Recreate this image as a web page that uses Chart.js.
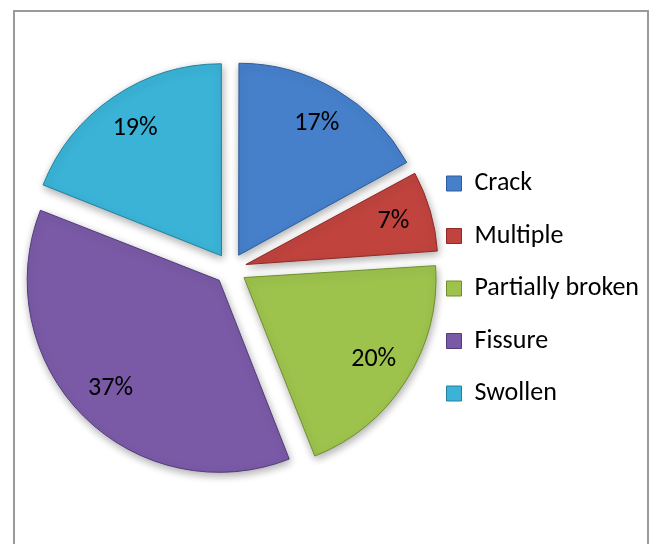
<!DOCTYPE html>
<html>
<head>
<meta charset="utf-8">
<script src="https://cdn.jsdelivr.net/npm/chart.js@4/dist/chart.umd.min.js"></script>
<style>
  html, body { margin: 0; padding: 0; background: #ffffff; }
  #wrap { position: relative; width: 655px; height: 544px; overflow: hidden; }
  #frame { position: absolute; left: 13px; top: 10px; width: 636px; height: 600px; border: 2px solid #9a9a9a; box-sizing: border-box; }
  #c { position: absolute; left: 0; top: 0; }
</style>
</head>
<body>
<div id="wrap">
  <div id="frame"></div>
  <canvas id="c" width="655" height="544"></canvas>
</div>
<script>
const categories = ["Crack", "Multiple", "Partially broken", "Fissure", "Swollen"];
const shares = [17, 7, 20, 37, 19];
const sliceColors = ["#4680CB", "#C0433E", "#9DC34D", "#7A5AA6", "#3AB3D7"];
const sliceEdges = ["#2E5C9C", "#8E2A26", "#6F8F2C", "#533A7C", "#23839F"];

const FONT = "Carlito, Calibri, Lato, sans-serif";
const FONT_SIZE = 26;
const RADIUS = 192;
const EXPLODE = 16;       // px each slice is pulled out
const OFFSET_DIV = 4;     // Chart.js v4 translates arcs by offset/4

const pieStyle = {
  id: 'pieStyle',
  afterDatasetsUpdate(chart) {
    // keep every exploded slice at the same radius
    chart.getDatasetMeta(0).data.forEach(arc => {
      const fix = 1 - Math.sin(Math.min(Math.PI, arc.circumference || 0));
      arc.outerRadius = RADIUS - EXPLODE * fix;
    });
  },
  beforeDatasetsDraw(chart) {
    const ctx = chart.ctx;
    ctx.save();
    ctx.shadowColor = 'rgba(0,0,0,0.33)';
    ctx.shadowBlur = 8;
    ctx.shadowOffsetX = 1;
    ctx.shadowOffsetY = 3;
  },
  afterDatasetsDraw(chart) {
    const ctx = chart.ctx;
    ctx.restore();
    const meta = chart.getDatasetMeta(0);
    ctx.save();
    ctx.font = FONT_SIZE + "px " + FONT;
    ctx.fillStyle = "#000";
    ctx.textAlign = "center";
    ctx.textBaseline = "middle";
    meta.data.forEach((arc, i) => {
      const p = arc.getProps(['x', 'y', 'startAngle', 'endAngle'], true);
      const mid = (p.startAngle + p.endAngle) / 2;
      const d = EXPLODE + RADIUS * 0.8;
      ctx.fillText(shares[i] + "%", p.x + Math.cos(mid) * d, p.y + Math.sin(mid) * d);
    });
    ctx.restore();
  }
};

new Chart(document.getElementById('c'), {
  type: 'pie',
  data: {
    labels: categories,
    datasets: [{
      data: shares,
      backgroundColor: sliceColors,
      borderColor: sliceEdges,
      borderWidth: 1,
      offset: EXPLODE * OFFSET_DIV,
      radius: RADIUS,
      clip: false
    }]
  },
  options: {
    responsive: false,
    animation: false,
    events: [],
    layout: { padding: { left: 41, right: 6, top: 0, bottom: 6 } },
    plugins: {
      tooltip: { enabled: false },
      legend: {
        position: 'right',
        align: 'center',
        title: { display: true, text: ' ', font: { size: 12, lineHeight: 1 }, padding: { top: 15, bottom: 12 } },
        labels: {
          boxWidth: 15,
          boxHeight: 15,
          padding: 26.5,
          color: '#000',
          font: { family: FONT, size: FONT_SIZE },
          generateLabels(chart) {
            return categories.map((c, i) => ({
              text: c,
              fillStyle: sliceColors[i],
              strokeStyle: sliceEdges[i],
              fontColor: '#000',
              lineWidth: 1,
              hidden: false,
              index: i
            }));
          }
        }
      }
    }
  },
  plugins: [pieStyle]
});
</script>
</body>
</html>
